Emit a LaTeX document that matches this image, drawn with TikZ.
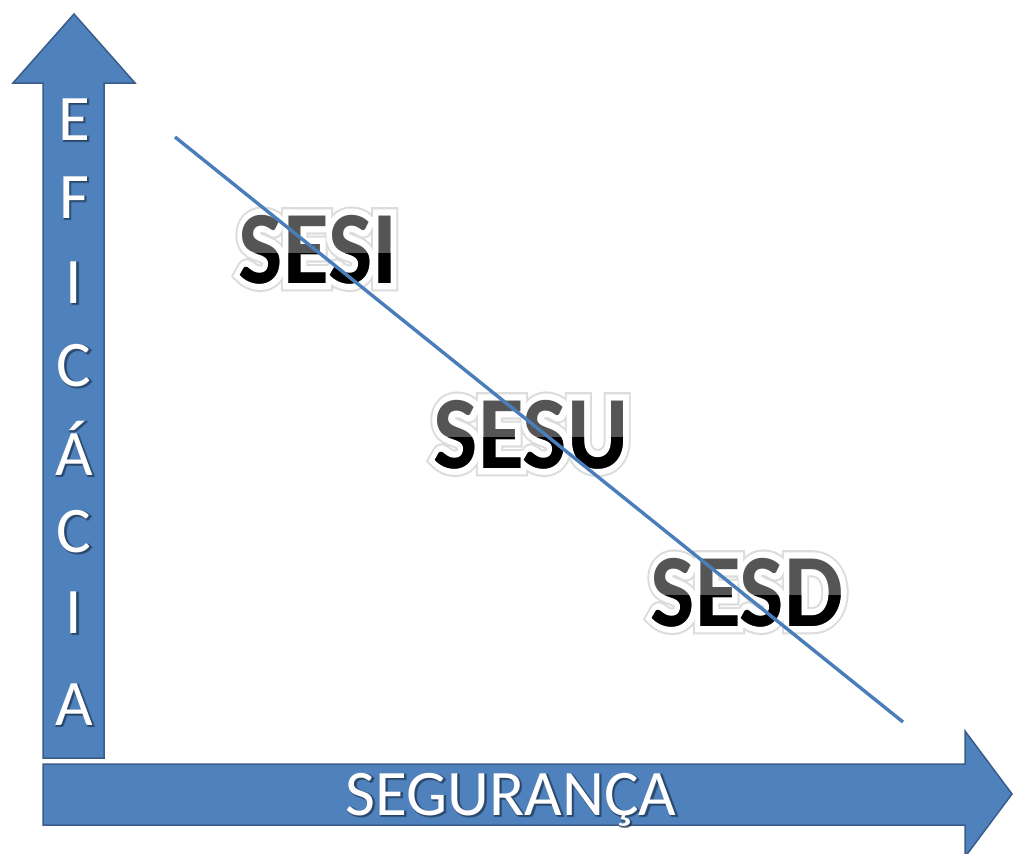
\documentclass[tikz,border=0pt]{standalone}
\usepackage{fontspec}
\setmainfont{Carlito}
\newfontfamily\glowouter[FakeBold=16]{Carlito Bold}
\newfontfamily\glowinner[FakeBold=12]{Carlito Bold}
\newfontfamily\axisshadowfont[FakeBold=3]{Carlito}
\definecolor{arrfill}{HTML}{4F81BD}
\definecolor{arrline}{HTML}{385D8A}
\definecolor{diagline}{HTML}{4A7EBB}
\definecolor{topgray}{HTML}{555555}
\definecolor{glowgray}{HTML}{DCDCDC}
\definecolor{shadowblue}{HTML}{1F3550}
\usetikzlibrary{calc}
\tikzset{
  arrowshape/.style={fill=arrfill, draw=arrline, line width=1.5pt, line join=miter},
  axisletter/.style={font=\fontsize{65}{65}\selectfont, text=white, anchor=base, inner sep=0pt},
  axisshadow/.style={font=\fontsize{65}{65}\selectfont\axisshadowfont, text=shadowblue, opacity=0.55, anchor=base, inner sep=0pt},
  bigword/.style={font=\fontsize{104}{104}\selectfont\bfseries, anchor=base, inner sep=0pt, xscale=0.9},
  glowA/.style={font=\fontsize{104}{104}\selectfont\glowouter, anchor=base, inner sep=0pt, xscale=0.9, text=glowgray},
  glowB/.style={font=\fontsize{104}{104}\selectfont\glowinner, anchor=base, inner sep=0pt, xscale=0.9, text=white},
}
\newcommand{\axislbl}[4]{% name, x, y, text
  \node[axisshadow] (#1s) at (#2+1.2,#3+1.2) {#4};
  \node[axisletter] (#1) at (#2,#3) {#4};
}
\newcommand{\glowword}[5]{% name, x, baseline y, text, split y
  \node[glowA] (#1ga) at (#2,#3) {#4};
  \node[glowB] (#1gb) at (#2,#3) {#4};
  \node[bigword, text=topgray] (#1) at (#2,#3) {#4};
  \begin{scope}
    \clip (#2-200,#5) rectangle (#2+200,#3+40);
    \node[bigword, text=black] (#1b) at (#2,#3) {#4};
  \end{scope}
}
\begin{document}
\begin{tikzpicture}[x=1pt,y=-1pt]
\useasboundingbox[fill=white] (0,0) rectangle (1013,854);
% vertical arrow
\draw[arrowshape] (74,14) -- (135,83) -- (104,83) -- (104,758) -- (43,758) -- (43,83) -- (13,83) -- cycle;
% horizontal arrow
\draw[arrowshape] (43,764) -- (965,764) -- (965,731) -- (1012,794) -- (965,857) -- (965,825) -- (43,825) -- cycle;
% vertical letters
\axislbl{lE}{74}{140}{E}
\axislbl{lF}{74}{218}{F}
\axislbl{lI}{74}{303}{I}
\axislbl{lC}{74}{386}{C}
\axislbl{lAa}{74}{475}{Á}
\axislbl{lC2}{74}{552}{C}
\axislbl{lI2}{74}{633}{I}
\axislbl{lA}{74}{725}{A}
% horizontal label
\axislbl{seg}{511}{815}{SEGURANÇA}
% big words
\glowword{sesi}{318}{283}{SESI}{253}
\glowword{sesu}{531}{468}{SESU}{437}
\glowword{sesd}{747}{626}{SESD}{595}
% diagonal line
\coordinate (lstart) at (175,137);
\coordinate (lend) at (903,722);
\draw[diagline, line width=3.4pt] (lstart) -- (lend);
\end{tikzpicture}
\end{document}
